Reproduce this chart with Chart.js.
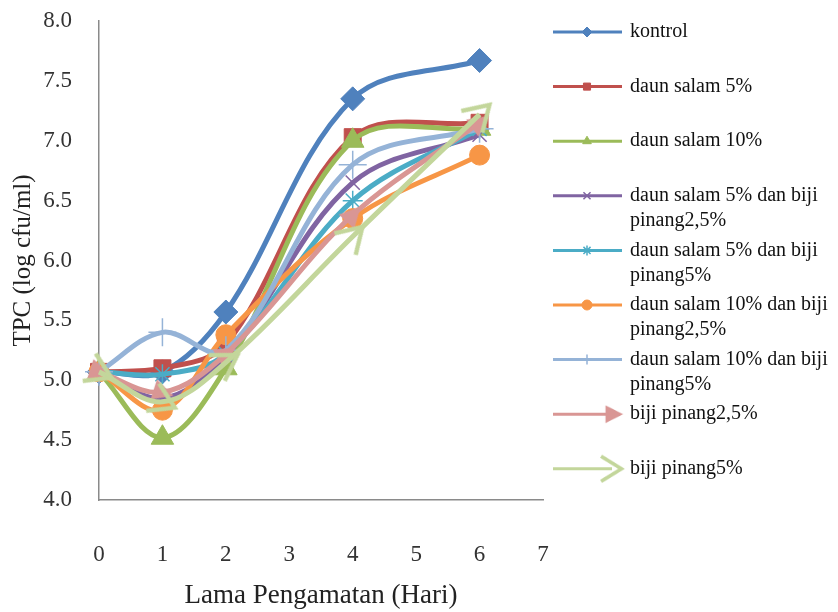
<!DOCTYPE html>
<html>
<head>
<meta charset="utf-8">
<script src="https://cdn.jsdelivr.net/npm/chart.js@4.4.1/dist/chart.umd.min.js"></script>
<style>
  html, body { margin: 0; padding: 0; background: #fff; }
  #wrap { width: 838px; height: 612px; position: relative; }
</style>
</head>
<body>
<div id="wrap"><canvas id="tpcChart" width="838" height="612"></canvas></div>
<script>
// lama pengamatan (hari)
var days = [0, 1, 2, 4, 6];

// TPC (log cfu/ml) per perlakuan
var kontrol   = [5.07, 5.07, 5.57, 7.35, 7.67];
var ds5       = [5.07, 5.10, 5.30, 7.03, 7.15];
var ds10      = [5.07, 4.52, 5.10, 7.00, 7.10];
var ds5bp25   = [5.07, 4.85, 5.20, 6.65, 7.05];
var ds5bp5    = [5.07, 5.05, 5.22, 6.50, 7.10];
var ds10bp25  = [5.07, 4.75, 5.38, 6.35, 6.88];
var ds10bp5   = [5.07, 5.40, 5.25, 6.80, 7.10];
var bp25      = [5.07, 4.90, 5.22, 6.38, 7.15];
var bp5       = [5.07, 4.82, 5.15, 6.20, 7.22];

var labels = [
  ['kontrol'],
  ['daun salam 5%'],
  ['daun salam 10%'],
  ['daun salam 5% dan biji', 'pinang2,5%'],
  ['daun salam 5% dan biji', 'pinang5%'],
  ['daun salam 10% dan biji', 'pinang2,5%'],
  ['daun salam 10% dan biji', 'pinang5%'],
  ['biji pinang2,5%'],
  ['biji pinang5%']
];
var series = [kontrol, ds5, ds10, ds5bp25, ds5bp5, ds10bp25, ds10bp5, bp25, bp5];
var colors = ['#4F81BD', '#C0504D', '#9BBB59', '#8064A2', '#4BACC6', '#F79646', '#95B3D7', '#D99694', '#C3D69B'];

// arrow markers (filled and open)
function arrowImg(color, size, filled) {
  var c = document.createElement('canvas');
  c.width = size; c.height = size;
  var g = c.getContext('2d');
  g.strokeStyle = color; g.fillStyle = color;
  if (filled) {
    g.beginPath();
    g.moveTo(size * 0.15, size * 0.1);
    g.lineTo(size * 0.95, size * 0.5);
    g.lineTo(size * 0.15, size * 0.9);
    g.closePath();
    g.fill();
  } else {
    g.lineWidth = size * 0.12;
    g.beginPath();
    g.moveTo(size * 0.2, size * 0.08);
    g.lineTo(size * 0.88, size * 0.5);
    g.lineTo(size * 0.2, size * 0.92);
    g.stroke();
  }
  return c;
}

var styles = [
  { ps: 'rectRot', r: 12, bw: 1 },
  { ps: 'rect', r: 12, bw: 1 },
  { ps: 'triangle', r: 13, bw: 1 },
  { ps: 'crossRot', r: 10, bw: 1.5 },
  { ps: 'star', r: 10, bw: 1.5 },
  { ps: 'circle', r: 10, bw: 1 },
  { ps: 'cross', r: 14, bw: 1.5 },
  { ps: arrowImg('#D99694', 26, true), r: 13, bw: 1 },
  { ps: arrowImg('#C3D69B', 36, false), r: 18, bw: 1 }
];

function segAngle(ctx) {
  var chart = ctx.chart, i = ctx.dataIndex, d = ctx.dataset.data;
  var sx = chart.scales.x, sy = chart.scales.y;
  if (!sx || !sy) return 0;
  var a = i > 0 ? d[i - 1] : d[i];
  var b = i > 0 ? d[i] : d[i + 1];
  var dx = sx.getPixelForValue(b.x) - sx.getPixelForValue(a.x);
  var dy = sy.getPixelForValue(b.y) - sy.getPixelForValue(a.y);
  return Math.atan2(dy, dx) * 180 / Math.PI;
}

var datasets = series.map(function (vals, k) {
  var st = styles[k];
  return {
    label: labels[k].join(' '),
    data: vals.map(function (v, i) { return { x: days[i], y: v }; }),
    borderColor: colors[k],
    backgroundColor: colors[k],
    borderWidth: 5,
    tension: 0.35,
    pointStyle: st.ps,
    pointRadius: st.r,
    pointBorderWidth: st.bw,
    pointBorderColor: colors[k],
    pointBackgroundColor: colors[k],
    pointRotation: k >= 7 ? segAngle : 0,
    order: 20 - k,
    clip: false
  };
});

var legendPlugin = {
  id: 'sideLegend',
  afterDraw: function (chart) {
    var g = chart.ctx;
    g.save();
    g.font = '20px "Liberation Serif", serif';
    g.textBaseline = 'middle';
    for (var k = 0; k < labels.length; k++) {
      var y = 32 + k * 54.6;
      var st = styles[k];
      g.strokeStyle = colors[k];
      g.lineWidth = 3;
      g.beginPath();
      g.moveTo(553, y);
      g.lineTo(k >= 7 ? 612 : 622, y);
      g.stroke();
      g.fillStyle = colors[k];
      g.lineWidth = st.bw;
      if (k >= 7) {
        var sz = k === 7 ? 22 : 30;
        g.drawImage(st.ps, 622 - sz * 0.9, y - sz / 2, sz, sz);
      } else {
        Chart.helpers.drawPoint(g, { pointStyle: st.ps, radius: Math.min(st.r, 10) * 0.5, borderWidth: st.bw, rotation: 0 }, 587, y);
      }
      g.fillStyle = '#111';
      for (var j = 0; j < labels[k].length; j++) {
        g.fillText(labels[k][j], 630, y + j * 25);
      }
    }
    g.restore();
  }
};

var ctx = document.getElementById('tpcChart');
var myChart = new Chart(ctx, {
  type: 'line',
  data: { datasets: datasets },
  options: {
    responsive: false,
    animation: false,
    layout: { autoPadding: false, padding: { left: 8, right: 295, top: 21, bottom: 0 } },
    plugins: {
      legend: { display: false },
      tooltip: { enabled: false }
    },
    scales: {
      x: {
        type: 'linear',
        min: 0,
        max: 7,
        afterFit: function (s) { s.height = 112; },
        grid: { display: false, drawTicks: false },
        border: { display: true, color: '#8a8a8a', width: 1.5 },
        ticks: {
          stepSize: 1,
          padding: 41,
          color: '#333',
          font: { family: '"Liberation Serif", serif', size: 23 }
        },
        title: {
          display: true,
          text: 'Lama Pengamatan (Hari)',
          color: '#222',
          padding: { top: 12, bottom: 0 },
          font: { family: '"Liberation Serif", serif', size: 27 }
        }
      },
      y: {
        min: 4,
        max: 8,
        afterFit: function (s) { s.width = 91; },
        grid: { display: true, drawOnChartArea: false, drawTicks: true, tickLength: 27, tickColor: 'rgba(0,0,0,0)' },
        border: { display: true, color: '#8a8a8a', width: 1.5 },
        ticks: {
          stepSize: 0.5,
          padding: 0,
          color: '#333',
          font: { family: '"Liberation Serif", serif', size: 23 },
          callback: function (v) { return Number(v).toFixed(1); }
        },
        title: {
          display: true,
          text: 'TPC (log cfu/ml)',
          color: '#222',
          padding: { top: 0, bottom: 0 },
          font: { family: '"Liberation Serif", serif', size: 25 }
        }
      }
    }
  },
  plugins: [legendPlugin]
});
</script>
</body>
</html>
